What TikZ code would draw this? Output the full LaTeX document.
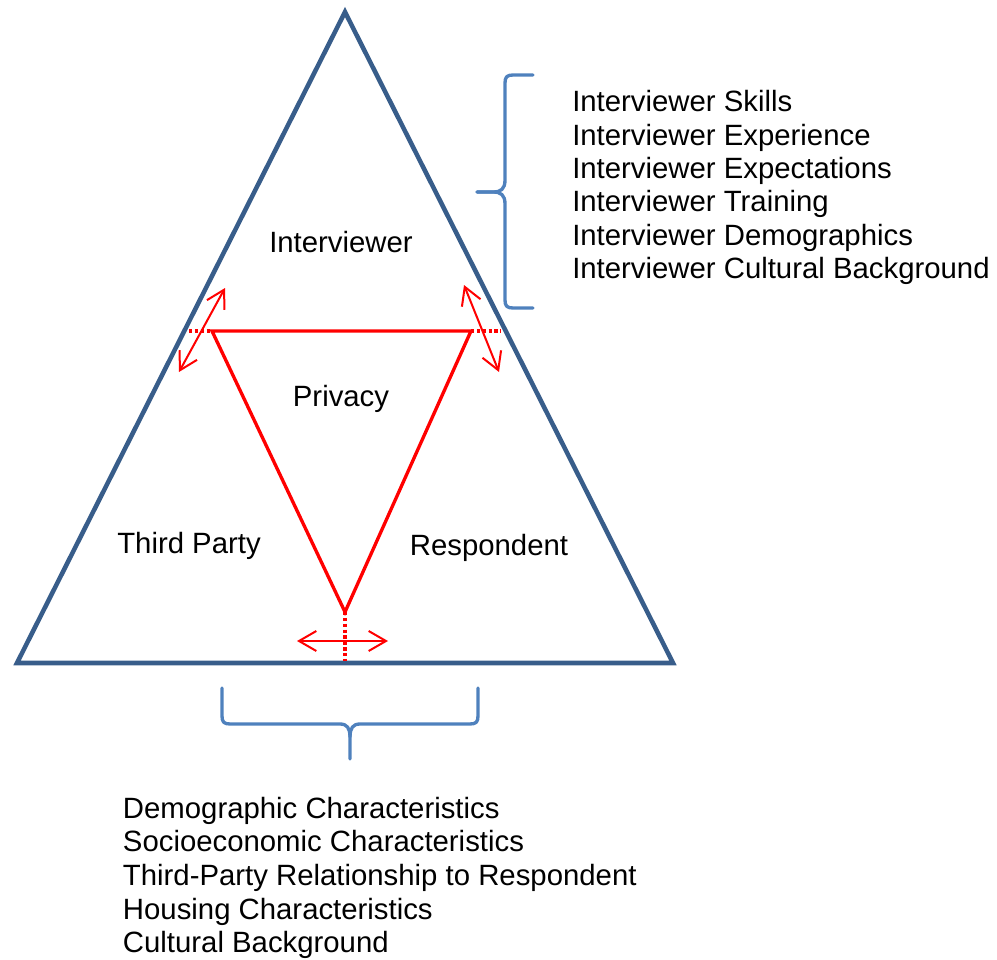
\documentclass[tikz,border=0pt]{standalone}
\usepackage{fontspec}
\setmainfont{Liberation Sans}
\usetikzlibrary{arrows.meta}
\definecolor{frameblue}{HTML}{385D8A}
\definecolor{braceblue}{HTML}{4F81BD}
\definecolor{privred}{HTML}{FF0000}
\begin{document}
\begin{tikzpicture}[x=0.75pt,y=-0.75pt,
  label/.style={inner sep=0pt,anchor=base,font=\fontsize{22pt}{25pt}\selectfont},
  listline/.style={inner sep=0pt,anchor=base west,font=\fontsize{22pt}{25pt}\selectfont},
  frame/.style={draw=frameblue,line width=3.4pt,line join=miter},
  privacy/.style={draw=privred,line width=2.5pt,line join=miter},
  guide/.style={draw=privred,line width=2.4pt,dash pattern=on 2.5pt off 1.9pt},
  shift arrow/.style={draw=privred,line width=1.5pt,
    {Straight Barb[length=13pt,width=15pt]}-{Straight Barb[length=13pt,width=15pt]}},
  brace/.style={draw=braceblue,line width=2.5pt,line cap=round,line join=round}]
\useasboundingbox (0,0) rectangle (997,960);

% outer triangle
\coordinate (apex) at (345,12);
\coordinate (bl) at (17,663);
\coordinate (br) at (673,663);
\draw[frame] (apex) -- (br) -- (bl) -- cycle;

% inner privacy triangle
\coordinate (pl) at (212,331);
\coordinate (pr) at (471,331);
\coordinate (pb) at (345,612);
\draw[privacy] (pl) -- (pr) -- (pb) -- cycle;

% dotted guides to the outer edges
\coordinate (gl) at (189,331);
\coordinate (gr) at (501,331);
\coordinate (gb) at (345,661);
\draw[guide] (gl) -- (pl);
\draw[guide] (pr) -- (gr);
\draw[guide] (pb) -- (gb);

% double-headed shift arrows
\coordinate (al1) at (225,288);
\coordinate (al2) at (179,372);
\coordinate (ar1) at (464,285);
\coordinate (ar2) at (499,372);
\coordinate (ab1) at (297,641);
\coordinate (ab2) at (388,641);
\draw[shift arrow] (al1) -- (al2);
\draw[shift arrow] (ar1) -- (ar2);
\draw[shift arrow] (ab1) -- (ab2);

% labels
\node[label] (interviewer) at (341,252) {Interviewer};
\node[label] (privacy) at (341,406) {Privacy};
\node[label] (thirdparty) at (189,553) {Third Party};
\node[label] (respondent) at (489,555) {Respondent};

% right brace
\coordinate (rbt) at (533,75);
\coordinate (rbb) at (533,308);
\coordinate (rbtip) at (477,192);
\draw[brace] (rbt) -- (513,75) .. controls (507,75) and (505,77) .. (505,83)
  -- (505,180) .. controls (505,189) and (501,192) .. (493,192) -- (rbtip);
\draw[brace] (rbtip) -- (493,192) .. controls (501,192) and (505,195) .. (505,204)
  -- (505,300) .. controls (505,306) and (507,308) .. (513,308) -- (rbb);

% bottom brace
\coordinate (bbl) at (222,688);
\coordinate (bbr) at (478,688);
\coordinate (bbtip) at (350,759);
\draw[brace] (bbl) -- (222,716) .. controls (222,722) and (224,724) .. (230,724)
  -- (340,724) .. controls (347,724) and (350,728) .. (350,737) -- (bbtip);
\draw[brace] (bbr) -- (478,716) .. controls (478,722) and (476,724) .. (470,724)
  -- (360,724) .. controls (353,724) and (350,728) .. (350,737);

% interviewer factors
\node[listline] (i1) at (572,111.7) {Interviewer Skills};
\node[listline] (i2) at (572,145.0) {Interviewer Experience};
\node[listline] (i3) at (572,178.4) {Interviewer Expectations};
\node[listline] (i4) at (572,211.8) {Interviewer Training};
\node[listline] (i5) at (572,245.1) {Interviewer Demographics};
\node[listline] (i6) at (572,278.5) {Interviewer Cultural Background};

% third-party factors
\node[listline] (t1) at (122.7,818.3) {Demographic Characteristics};
\node[listline] (t2) at (122.7,851.8) {Socioeconomic Characteristics};
\node[listline] (t3) at (122.7,885.4) {Third-Party Relationship to Respondent};
\node[listline] (t4) at (122.7,919.0) {Housing Characteristics};
\node[listline] (t5) at (122.7,952.7) {Cultural Background};
\end{tikzpicture}
\end{document}
